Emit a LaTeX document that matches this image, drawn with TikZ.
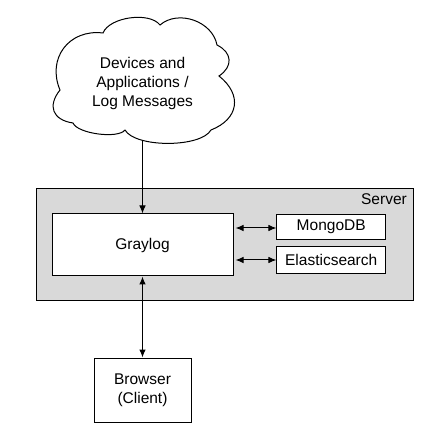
\documentclass[tikz,border=0pt]{standalone}
\usepackage{fontspec}
\setmainfont{Liberation Sans}
\usetikzlibrary{calc,arrows.meta}
\begin{document}
\begin{tikzpicture}[x=1pt,y=1pt,
  every node/.style={font=\fontsize{15.5}{19}\selectfont},
  box/.style={draw,line width=1pt,fill=white,inner sep=0pt,align=center},
  conn/.style={line width=1pt},
  arr/.style={-{Latex[length=8pt,width=6.5pt]}},
  darr/.style={{Latex[length=8pt,width=6.5pt]}-{Latex[length=8pt,width=6.5pt]}}]
\useasboundingbox (0,0) rectangle (439,-438);
% server
\node[draw,line width=1pt,fill=black!15,minimum width=377pt,minimum height=112pt,inner sep=0pt] (server) at (224.5,-244.5) {};
\node[anchor=north east,inner sep=0pt] (serverlbl) at (407,-193.5) {Server};
\node[box,minimum width=181pt,minimum height=62pt] (graylog) at (142.5,-245) {Graylog};
\node[box,minimum width=108.5pt,minimum height=24.5pt] (mongo) at (331.2,-227) {MongoDB};
\node[box,minimum width=108.5pt,minimum height=27pt] (elastic) at (331.2,-260) {Elasticsearch};
\node[box,minimum width=97pt,minimum height=64pt] (browser) at (142.5,-390) {Browser\\(Client)};
% cloud outline
\coordinate (v1) at (103,-33);
\coordinate (v2) at (160,-25);
\coordinate (v3) at (217,-45);
\coordinate (v4) at (219,-76);
\coordinate (v5) at (211,-130);
\coordinate (v6) at (125,-130);
\coordinate (v7) at (73,-123);
\coordinate (v8) at (60,-90);
\draw[line width=1pt,fill=white]
  (v1) .. controls ($(v1)!0.30!60:(v2)$) and ($(v2)!0.30!-60:(v1)$) .. (v2)
       .. controls ($(v2)!0.40!60:(v3)$) and ($(v3)!0.40!-60:(v2)$) .. (v3)
       .. controls ($(v3)!0.55!60:(v4)$) and ($(v4)!0.55!-60:(v3)$) .. (v4)
       .. controls ($(v4)!0.55!60:(v5)$) and ($(v5)!0.55!-60:(v4)$) .. (v5)
       .. controls ($(v5)!0.24!60:(v6)$) and ($(v6)!0.24!-60:(v5)$) .. (v6)
       .. controls ($(v6)!0.22!60:(v7)$) and ($(v7)!0.22!-60:(v6)$) .. (v7)
       .. controls ($(v7)!0.58!60:(v8)$) and ($(v8)!0.58!-60:(v7)$) .. (v8)
       .. controls ($(v8)!0.48!60:(v1)$) and ($(v1)!0.48!-60:(v8)$) .. (v1) -- cycle;
\node[align=center,inner sep=0pt] (cloud) at (142.5,-83) {Devices and\\Applications /\\Log Messages};
\coordinate (cloudbot) at (142.5,-140.5);
\draw[conn,arr] (cloudbot) -- (graylog.north);
\draw[conn,darr] (graylog.south) -- (browser.north);
\draw[conn,darr] ([xshift=2pt]graylog.east |- 0,-228) -- (mongo.west |- 0,-228);
\draw[conn,darr] ([xshift=2pt]graylog.east |- 0,-260) -- (elastic.west |- 0,-260);
\end{tikzpicture}
\end{document}
